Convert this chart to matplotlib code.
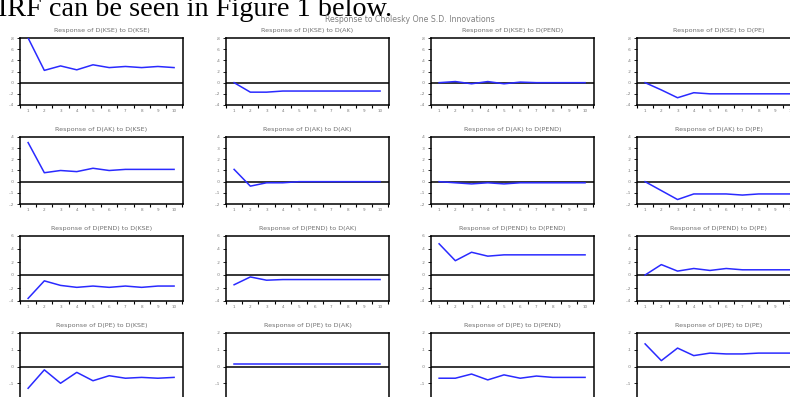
import numpy as np
import matplotlib
matplotlib.use("Agg")
import matplotlib.pyplot as plt

# variables (rows = response of, cols = shock to)
names = ["D(KSE)", "D(AK)", "D(PEND)", "D(PE)"]
periods = list(range(1, 11))

# impulse responses
kse_kse = [0.80, 0.22, 0.30, 0.23, 0.32, 0.27, 0.29, 0.27, 0.29, 0.27]
kse_ak = [0.0, -0.17, -0.17, -0.15, -0.15, -0.15, -0.15, -0.15, -0.15, -0.15]
kse_pend = [0.0, 0.02, -0.02, 0.02, -0.02, 0.01, 0.0, 0.0, 0.0, 0.0]
kse_pe = [0.0, -0.13, -0.27, -0.18, -0.20, -0.20, -0.20, -0.20, -0.20, -0.20]

ak_kse = [0.35, 0.08, 0.10, 0.09, 0.12, 0.10, 0.11, 0.11, 0.11, 0.11]
ak_ak = [0.11, -0.04, -0.01, -0.01, 0.0, 0.0, 0.0, 0.0, 0.0, 0.0]
ak_pend = [0.0, -0.01, -0.02, -0.01, -0.02, -0.01, -0.01, -0.01, -0.01, -0.01]
ak_pe = [0.0, -0.08, -0.16, -0.11, -0.11, -0.11, -0.12, -0.11, -0.11, -0.11]

pend_kse = [-0.36, -0.09, -0.16, -0.19, -0.17, -0.19, -0.17, -0.19, -0.17, -0.17]
pend_ak = [-0.15, -0.03, -0.08, -0.07, -0.07, -0.07, -0.07, -0.07, -0.07, -0.07]
pend_pend = [0.48, 0.22, 0.35, 0.29, 0.31, 0.31, 0.31, 0.31, 0.31, 0.31]
pend_pe = [0.0, 0.16, 0.06, 0.10, 0.07, 0.10, 0.08, 0.08, 0.08, 0.08]

pe_kse = [-0.13, -0.02, -0.10, -0.035, -0.085, -0.055, -0.07, -0.065, -0.07, -0.065]
pe_ak = [0.017] * 10
pe_pend = [-0.07, -0.07, -0.045, -0.08, -0.05, -0.07, -0.057, -0.065, -0.065, -0.065]
pe_pe = [0.135, 0.035, 0.11, 0.065, 0.08, 0.075, 0.075, 0.08, 0.08, 0.08]

responses = [
    [kse_kse, kse_ak, kse_pend, kse_pe],
    [ak_kse, ak_ak, ak_pend, ak_pe],
    [pend_kse, pend_ak, pend_pend, pend_pe],
    [pe_kse, pe_ak, pe_pend, pe_pe],
]

# y ticks per row
row_ticks = [
    [-0.4, -0.2, 0.0, 0.2, 0.4, 0.6, 0.8],
    [-0.2, -0.1, 0.0, 0.1, 0.2, 0.3, 0.4],
    [-0.4, -0.2, 0.0, 0.2, 0.4, 0.6],
    [-0.2, -0.1, 0.0, 0.1, 0.2],
]

W, H = 790, 397
fig = plt.figure(figsize=(W / 100, H / 100), dpi=100)

col_left = [20, 226, 431, 637]
row_top = [38, 137, 236, 333]
row_h = [67, 67, 65, 67]
ax_w = 163


def fmt(v):
    s = "%.1f" % v
    return s.replace("0.", ".")


fig.text(-0.003, 1 - 16 / H, "IRF can be seen in Figure 1 below.",
         fontfamily="Liberation Serif", fontsize=20.3, va="baseline", ha="left")
fig.text(410 / W, 1 - 19.5 / H, "Response to Cholesky One S.D. Innovations",
         fontsize=5.6, color="#808080", ha="center", va="center")

for r in range(4):
    for c in range(4):
        ax = fig.add_axes([col_left[c] / W, 1 - (row_top[r] + row_h[r]) / H,
                           ax_w / W, row_h[r] / H])
        ax.plot(periods, responses[r][c], color="#2a2aff", lw=1.1, zorder=3)
        ax.axhline(0, color="black", lw=1.1, zorder=2)
        ax.set_xlim(0.55, 10.55)
        ax.set_ylim(row_ticks[r][0], row_ticks[r][-1])
        ax.set_yticks(row_ticks[r])
        ax.set_yticklabels([fmt(v) for v in row_ticks[r]])
        ax.set_xticks(periods)
        ax.set_xticks(np.arange(0.5, 11, 1.0), minor=True)
        ax.tick_params(axis="x", which="major", length=0, pad=3,
                       labelsize=3, labelcolor="#777777")
        ax.tick_params(axis="x", which="minor", length=2, width=0.8, direction="out")
        ax.tick_params(axis="y", length=2, width=0.6, pad=2,
                       labelsize=3, labelcolor="#777777")
        for sp in ax.spines.values():
            sp.set_linewidth(1.1)
        ax.set_title("Response of %s to %s" % (names[r], names[c]),
                     fontsize=4.6, color="#707070", pad=4)

fig.savefig("out.png", dpi=100)
